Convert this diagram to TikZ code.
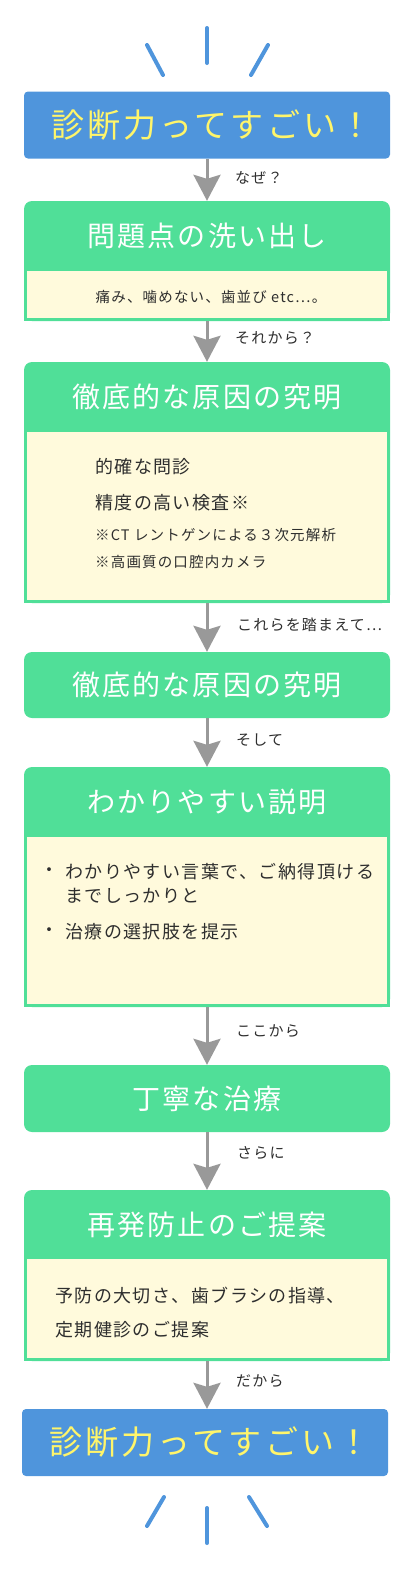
\documentclass[tikz,border=0pt]{standalone}
\usepackage{fontspec}
\setmainfont{Noto Sans CJK JP}[LetterSpace=8]
\newfontfamily\bigfont{Noto Sans CJK JP}[LetterSpace=10]
\usetikzlibrary{arrows.meta}

\definecolor{grn}{HTML}{50DF98}
\definecolor{blu}{HTML}{4F95DC}
\definecolor{crm}{HTML}{FFFADC}
\definecolor{ylw}{HTML}{FFF56A}
\definecolor{arrgray}{HTML}{999999}
\definecolor{txt}{HTML}{2E2E2E}

\begin{document}
\begin{tikzpicture}[x=1pt, y=-1pt,
  gbox/.style={fill=grn, rounded corners=8pt, minimum width=366pt, inner sep=0pt, text=white, font=\fontsize{28}{28}\selectfont},
  bbox/.style={fill=blu, rounded corners=4pt, minimum width=366pt, minimum height=67pt, inner sep=0pt, text=ylw, font=\bigfont\fontsize{33}{33}\selectfont},
  panel/.style={fill=crm, draw=grn, line width=3.3pt, minimum width=362.7pt, inner sep=0pt},
  ttl/.style={text=white, font=\fontsize{28}{28}\selectfont, inner sep=0pt},
  big/.style={text=txt, font=\fontsize{18}{18}\selectfont, anchor=west, inner sep=0pt},
  small/.style={text=txt, font=\fontsize{14.5}{14.5}\selectfont, anchor=west, inner sep=0pt},
  lbl/.style={text=txt, font=\fontsize{15}{15}\selectfont, anchor=west, inner sep=0pt},
  arr/.style={draw=arrgray, line width=3pt, -{Stealth[length=26pt, width=27pt, inset=4pt]}},
  ray/.style={draw=blu, line width=4pt, line cap=round}]
\useasboundingbox (0,0) rectangle (414,1575);

% rays on top
\draw[ray] (147,45)--(163,75);
\draw[ray] (207,28)--(207,63);
\draw[ray] (268,45)--(251,75);

\node[bbox] (b1) at (207,125) {};
\node[text=ylw, font=\bigfont\fontsize{33}{33}\selectfont] (b1t) at (212,125) {診断力ってすごい！};

\node[gbox, minimum height=120pt] (b2) at (207,261) {};
\node[ttl] (b2t) at (207,236) {問題点の洗い出し};
\node[panel, minimum height=50pt] (b2p) at (207,294.35) {};
\node[small, anchor=center] (b2x) at (211,297) {痛み、噛めない、歯並び etc⋯。};

\node[gbox, minimum height=241pt] (b3) at (207,482.5) {};
\node[ttl] (b3t) at (207,397) {徹底的な原因の究明};
\node[panel, minimum height=171pt] (b3p) at (207,515.85) {};
\node[big] (b3a) at (95,467) {的確な問診};
\node[big] (b3b) at (95,503) {精度の高い検査※};
\node[small] (b3c) at (95,535) {※CT レントゲンによる３次元解析};
\node[small] (b3d) at (95,562) {※高画質の口腔内カメラ};

\node[gbox, minimum height=66pt] (b4) at (207,685) {徹底的な原因の究明};

\node[gbox, minimum height=240pt] (b5) at (207,887) {};
\node[ttl] (b5t) at (207,802) {わかりやすい説明};
\node[panel, minimum height=170pt] (b5p) at (207,920.35) {};
\node[big] (b5d1) at (40,872) {・};
\node[big] (b5a) at (65,872) {わかりやすい言葉で、ご納得頂ける};
\node[big] (b5b) at (65,896) {までしっかりと};
\node[big] (b5d2) at (40,932) {・};
\node[big] (b5c) at (65,932) {治療の選択肢を提示};

\node[gbox, minimum height=67pt] (b6) at (207,1098.5) {丁寧な治療};

\node[gbox, minimum height=171pt] (b7) at (207,1275.5) {};
\node[ttl] (b7t) at (207,1224.5) {再発防止のご提案};
\node[panel, minimum height=102pt] (b7p) at (207,1308.35) {};
\node[big] (b7a) at (55,1296) {予防の大切さ、歯ブラシの指導、};
\node[big] (b7b) at (55,1330) {定期健診のご提案};

\node[bbox] (b8) at (205,1442.5) {};
\node[text=ylw, font=\bigfont\fontsize{33}{33}\selectfont] (b8t) at (210,1442.5) {診断力ってすごい！};

% rays at the bottom
\draw[ray] (164,1497)--(147,1526);
\draw[ray] (207,1508)--(207,1543);
\draw[ray] (249,1497)--(267,1526);

% arrows and their words
\draw[arr] (b1.south)--(b2.north);
\draw[arr] (b2p.south)--(b3.north);
\draw[arr] (b3p.south)--(b4.north);
\draw[arr] (b4.south)--(b5.north);
\draw[arr] (b5p.south)--(b6.north);
\draw[arr] (b6.south)--(b7.north);
\draw[arr] (b7p.south)--(b7p.south |- b8.north);

\node[lbl] (l1) at (235,178) {なぜ？};
\node[lbl] (l2) at (235,338) {それから？};
\node[lbl] (l3) at (237,625) {これらを踏まえて⋯};
\node[lbl] (l4) at (236,740) {そして};
\node[lbl] (l5) at (236,1031) {ここから};
\node[lbl] (l6) at (237,1153) {さらに};
\node[lbl] (l7) at (236,1381) {だから};
\end{tikzpicture}
\end{document}
